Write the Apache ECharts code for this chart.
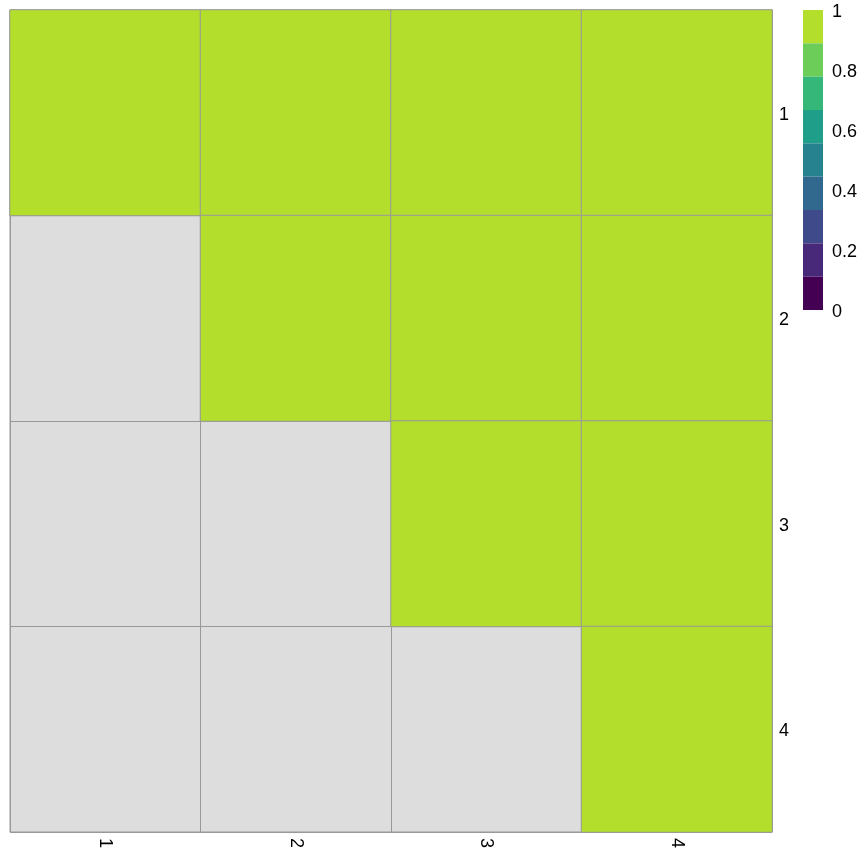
<!DOCTYPE html>
<html>
<head>
<meta charset="utf-8">
<script src="https://cdn.jsdelivr.net/npm/echarts@6/dist/echarts.min.js"></script>
<style>html,body{margin:0;padding:0;background:#fff;}#c{width:864px;height:864px;}</style>
</head>
<body>
<div id="c"></div>
<script>
const colLabels = ['1', '2', '3', '4'];
const rowLabels = ['1', '2', '3', '4'];
// matrix values (row-major); null = NA (grey)
const row1 = [1, 1, 1, 1];
const row2 = [null, 1, 1, 1];
const row3 = [null, null, 1, 1];
const row4 = [null, null, null, 1];
const legendColors = ['#440154', '#482878', '#3E4A89', '#31688E', '#26828E', '#1F9E89', '#35B779', '#6DCD59', '#B4DE2C'];
const legendTickValues = [0, 0.2, 0.4, 0.6, 0.8, 1];
const legendTickLabels = ['0', '0.2', '0.4', '0.6', '0.8', '1'];

const matrix = [row1, row2, row3, row4];
const data = [];
matrix.forEach((row, r) => row.forEach((v, c) => { if (v !== null) data.push([c, r, v]); }));

const n = legendColors.length;
const pieces = legendColors.map((col, i) => i === n - 1
  ? { gte: i / n, lte: 1, color: col }
  : { gte: i / n, lt: (i + 1) / n, color: col });

const FONT = 'Liberation Sans, Arial, Helvetica, sans-serif';
const FS = 18;
const barTop = 10, barH = 300, barLeft = 803;

const chart = echarts.init(document.getElementById('c'), null, { renderer: 'canvas' });
chart.setOption({
  backgroundColor: '#ffffff',
  animation: false,
  grid: {
    left: 10, top: 10, width: 762, height: 822,
    show: true, backgroundColor: '#DDDDDD', borderColor: '#999999', borderWidth: 1
  },
  xAxis: {
    type: 'category', data: colLabels, position: 'bottom',
    axisLine: { show: false }, axisTick: { show: false },
    axisLabel: { rotate: -90, margin: 6, fontSize: FS, color: '#000', fontFamily: FONT },
    splitLine: { show: true, lineStyle: { color: '#999999', width: 1 } }
  },
  yAxis: {
    type: 'category', data: rowLabels, position: 'right', inverse: true,
    axisLine: { show: false }, axisTick: { show: false },
    axisLabel: { margin: 7, fontSize: FS, color: '#000', fontFamily: FONT, verticalAlign: 'top', lineHeight: FS, padding: [-7, 0, 0, 0] },
    splitLine: { show: true, lineStyle: { color: '#999999', width: 1 } }
  },
  visualMap: {
    type: 'piecewise', seriesIndex: 0, orient: 'vertical',
    left: barLeft, top: barTop, padding: 0,
    itemWidth: 20, itemHeight: barH / n, itemGap: 0, itemSymbol: 'rect',
    showLabel: false, selectedMode: false, hoverLink: false,
    pieces: pieces
  },
  graphic: legendTickValues.map((v, i) => ({
    type: 'text', x: 832, y: barTop + barH * (1 - v) + 2,
    style: { text: legendTickLabels[i], fontSize: FS, fill: '#000', fontFamily: FONT, verticalAlign: 'middle', align: 'left' }
  })),
  series: [{
    type: 'heatmap', data: data,
    itemStyle: { borderColor: '#999999', borderWidth: 1 },
    emphasis: { disabled: true }
  }]
});
</script>
</body>
</html>
